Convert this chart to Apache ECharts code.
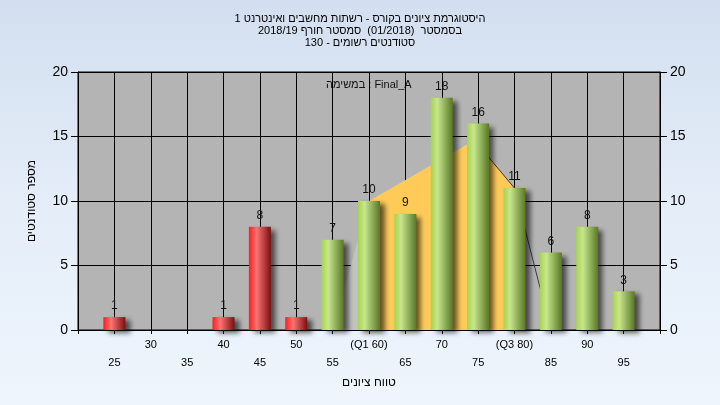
<!DOCTYPE html>
<html>
<head>
<meta charset="utf-8">
<script src="https://cdn.jsdelivr.net/npm/echarts@6/dist/echarts.min.js"></script>
<style>
html,body{margin:0;padding:0;}
#c{width:720px;height:405px;background:linear-gradient(180deg,#d3dff0 0%,#e4edf8 50%,#eef5fd 100%);}
</style>
</head>
<body>
<div id="c"></div>
<script>
// ---- data ----
const titleLines = [
  'היסטוגרמת ציונים בקורס - רשתות מחשבים ואינטרנט 1',
  'בסמסטר  (01/2018)  סמסטר חורף 2018/19',
  'סטודנטים רשומים - 130'
];
const seriesLabel = 'במשימה : Final_A';
const xAxisName = 'טווח ציונים';
const yAxisName = 'מספר סטודנטים';
const grades = [25, 40, 45, 50, 55, 60, 65, 70, 75, 80, 85, 90, 95];
const counts = [1, 1, 8, 1, 7, 10, 9, 18, 16, 11, 6, 8, 3];
const passGrade = 55;
const tickValues = [25, 30, 35, 40, 45, 50, 55, 60, 65, 70, 75, 80, 85, 90, 95];
const tickLabels = ['25', '30', '35', '40', '45', '50', '55', '(Q1 60)', '65', '70', '75', '(Q3 80)', '85', '90', '95'];
const iqrCurve = [[60, 10], [74.5, 14.7], [80, 11]];
const leftTail = [[55, 0], [60, 10]];
const rightEdge = [[74.5, 14.7], [80, 11], [85, 0]];

// ---- styles ----
const redGrad = new echarts.graphic.LinearGradient(0, 0, 1, 0, [
  {offset: 0, color: '#ff1c1c'}, {offset: 0.35, color: '#ff7373'}, {offset: 1, color: '#781010'}
]);
const greenGrad = new echarts.graphic.LinearGradient(0, 0, 1, 0, [
  {offset: 0, color: '#a6d44c'}, {offset: 0.3, color: '#c8e68e'}, {offset: 1, color: '#587826'}
]);
const barData = grades.map((g, i) => ({
  value: [g, counts[i]],
  itemStyle: {color: g < passGrade ? redGrad : greenGrad}
}));

const chart = echarts.init(document.getElementById('c'), null, {renderer: 'canvas'});
const font = '"Liberation Sans", Arial, sans-serif';
chart.setOption({
  backgroundColor: 'transparent',
  animation: false,
  textStyle: {fontFamily: font},
  title: {
    text: titleLines.join('\n'),
    left: 'center', top: 8,
    textStyle: {fontSize: 11, fontWeight: 'normal', color: '#000', lineHeight: 12, fontFamily: font}
  },
  graphic: [{
    type: 'text', left: 326, top: 79,
    style: {text: seriesLabel, fontSize: 11, fill: '#111', fontFamily: font}
  }],
  grid: {
    left: 78, right: 60, top: 72, bottom: 75,
    show: true, backgroundColor: '#b4b4b4', borderColor: '#000', borderWidth: 1
  },
  xAxis: {
    type: 'value', min: 20, max: 100, interval: 5,
    name: xAxisName, nameLocation: 'middle', nameGap: 45,
    nameTextStyle: {fontSize: 12, color: '#000', fontFamily: font},
    axisLine: {show: true, lineStyle: {color: '#000', width: 1}},
    axisTick: {show: true, length: 4, lineStyle: {color: '#000'}},
    splitLine: {show: true, lineStyle: {color: '#000', width: 1}},
    axisLabel: {
      margin: 6, fontSize: 11, color: '#000', lineHeight: 18, fontFamily: font,
      formatter: v => {
        const i = tickValues.indexOf(v);
        if (i < 0) return '';
        return (v % 10 === 5 ? '\n' : '') + tickLabels[i];
      }
    }
  },
  yAxis: [{
    type: 'value', min: 0, max: 20, interval: 5, position: 'left',
    name: yAxisName, nameLocation: 'middle', nameGap: 40,
    nameTextStyle: {fontSize: 12, color: '#000', fontFamily: font},
    axisLine: {show: true, lineStyle: {color: '#000'}},
    axisTick: {show: true, length: 7, lineStyle: {color: '#000'}},
    splitLine: {show: true, lineStyle: {color: '#000', width: 1}},
    axisLabel: {margin: 10, fontSize: 14, color: '#000', fontFamily: font}
  }, {
    type: 'value', min: 0, max: 20, interval: 5, position: 'right',
    axisLine: {show: true, lineStyle: {color: '#000'}},
    axisTick: {show: true, length: 7, lineStyle: {color: '#000'}},
    splitLine: {show: false},
    axisLabel: {margin: 10, fontSize: 14, color: '#000', fontFamily: font}
  }],
  series: [{
    type: 'line', data: leftTail, symbol: 'none', z: 1,
    lineStyle: {width: 0}, areaStyle: {color: '#c2c2c2', opacity: 1}
  }, {
    type: 'line', data: iqrCurve, symbol: 'none', z: 1,
    lineStyle: {width: 0}, areaStyle: {color: '#ffcb58', opacity: 1}
  }, {
    type: 'line', data: rightEdge, symbol: 'none', z: 1,
    lineStyle: {width: 1, color: '#3a3a3a'}
  }, {
    type: 'bar', data: barData, barWidth: 22, z: 3,
    itemStyle: {shadowColor: 'rgba(0,0,0,0.6)', shadowBlur: 5, shadowOffsetX: 5, shadowOffsetY: 3},
    label: {show: true, position: 'top', distance: 5, fontSize: 12, color: '#111', fontFamily: font}
  }]
});
</script>
</body>
</html>
